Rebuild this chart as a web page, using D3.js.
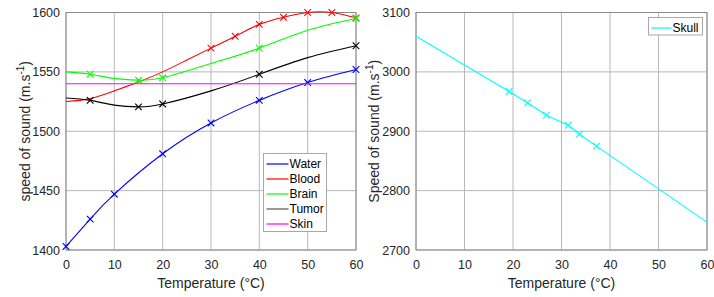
<!DOCTYPE html>
<html>
<head>
<meta charset="utf-8">
<script src="https://cdn.jsdelivr.net/npm/d3@7"></script>
<style>
  body { margin: 0; background: #fff; }
  svg { display: block; font-family: "Liberation Sans", Arial, sans-serif; }
</style>
</head>
<body>
<div id="graph"></div>
<script>
// values
const tempTicks = [0, 10, 20, 30, 40, 50, 60]
const tissueTicks = [1400, 1450, 1500, 1550, 1600]
const skullTicks = [2700, 2800, 2900, 3000, 3100]

const waterT = [0, 5, 10, 20, 30, 40, 50, 60]
const waterV = [1403, 1426, 1447, 1481, 1507, 1526, 1541, 1552]
const waterMarks = [0, 5, 10, 20, 30, 40, 50, 60]

const bloodT = [0, 5, 10, 15, 20, 25, 30, 35, 40, 45, 50, 55, 60]
const bloodV = [1525, 1527.5, 1534, 1541.5, 1550, 1560, 1570, 1580, 1590, 1596, 1600, 1600, 1595.5]
const bloodMarks = [30, 35, 40, 45, 50, 55, 60]

const brainT = [0, 5, 10, 15, 20, 30, 40, 50, 60]
const brainV = [1550, 1548, 1544.5, 1543, 1545, 1557, 1570, 1585, 1595]
const brainMarks = [5, 15, 20, 40, 60]

const tumorT = [0, 5, 10, 15, 20, 30, 40, 50, 60]
const tumorV = [1528, 1526, 1522, 1520.5, 1523, 1534, 1548, 1562, 1572]
const tumorMarks = [5, 15, 20, 40, 60]

const skinT = [0, 60]
const skinV = [1540, 1540]
const skinMarks = []

const skullT = [0, 19.2, 23, 26.9, 31.4, 33.7, 37.2, 60]
const skullV = [3060, 2967, 2948, 2927, 2910, 2895, 2875, 2747]
const skullMarks = [19.2, 23, 26.9, 31.4, 33.7, 37.2]

const tissues = [
    { name: 'Water', t: waterT, v: waterV, marks: waterMarks, colour: '#0000ff' },
    { name: 'Blood', t: bloodT, v: bloodV, marks: bloodMarks, colour: '#ff0000' },
    { name: 'Brain', t: brainT, v: brainV, marks: brainMarks, colour: '#00ff00' },
    { name: 'Tumor', t: tumorT, v: tumorV, marks: tumorMarks, colour: '#000000' },
    { name: 'Skin', t: skinT, v: skinV, marks: skinMarks, colour: '#ff00ff' }
]
const skull = [
    { name: 'Skull', t: skullT, v: skullV, marks: skullMarks, colour: '#00ffff' }
]

const width = 714, height = 297
const boxColour = '#8a8a8a', gridColour = '#b8b8b8', textColour = '#262626'

const svg = d3.select('#graph').append('svg')
    .attr('width', width)
    .attr('height', height)

const drawPanel = (opts) => {
    const { left, right, top, bottom, yDomain, yTicks, series, yLabel, labelX, curve, legend } = opts

    const x = d3.scaleLinear().domain([0, 60]).range([left, right])
    const y = d3.scaleLinear().domain(yDomain).range([bottom, top])

    const g = svg.append('g')

    // grid
    g.selectAll('.vgrid').data(tempTicks).enter().append('line')
        .attr('x1', d => x(d)).attr('x2', d => x(d))
        .attr('y1', top).attr('y2', bottom)
        .attr('stroke', gridColour).attr('stroke-width', 1)
    g.selectAll('.hgrid').data(yTicks).enter().append('line')
        .attr('x1', left).attr('x2', right)
        .attr('y1', d => y(d)).attr('y2', d => y(d))
        .attr('stroke', gridColour).attr('stroke-width', 1)

    // box
    g.append('rect')
        .attr('x', left).attr('y', top)
        .attr('width', right - left).attr('height', bottom - top)
        .attr('fill', 'none').attr('stroke', boxColour)

    // axes (tick text only)
    const xAxis = g.append('g').attr('transform', `translate(0,${bottom})`)
        .call(d3.axisBottom(x).tickValues(tempTicks).tickFormat(d3.format('d')).tickSize(0).tickPadding(10))
    const yAxis = g.append('g').attr('transform', `translate(${left},0)`)
        .call(d3.axisLeft(y).tickValues(yTicks).tickFormat(d3.format('d')).tickSize(0).tickPadding(6))
    ;[xAxis, yAxis].forEach(a => {
        a.select('.domain').remove()
        a.selectAll('text').attr('fill', textColour).attr('font-size', 12.5)
            .attr('font-family', '"Liberation Sans", Arial, sans-serif')
    })

    // lines
    const line = d3.line()
        .x(d => x(d[0]))
        .y(d => y(d[1]))
        .curve(curve)

    series.forEach(s => {
        const pts = s.t.map((t, i) => [t, s.v[i]])
        g.append('path')
            .attr('d', line(pts))
            .attr('fill', 'none')
            .attr('stroke', s.colour)
            .attr('stroke-width', 1.1)

        // x markers
        s.marks.forEach(m => {
            const i = s.t.indexOf(m)
            const cx = x(m), cy = y(s.v[i])
            const r = 3.3
            g.append('path')
                .attr('d', `M${cx - r},${cy - r}L${cx + r},${cy + r}M${cx - r},${cy + r}L${cx + r},${cy - r}`)
                .attr('stroke', s.colour)
                .attr('stroke-width', 1.1)
        })
    })

    // x label
    g.append('text')
        .attr('x', (left + right) / 2)
        .attr('y', 288)
        .attr('text-anchor', 'middle')
        .attr('font-size', 14)
        .attr('fill', textColour)
        .text('Temperature (°C)')

    // y label
    const yl = g.append('text')
        .attr('transform', `translate(${labelX},${(top + bottom) / 2}) rotate(-90)`)
        .attr('text-anchor', 'middle')
        .attr('font-size', 14)
        .attr('fill', textColour)
    yl.append('tspan').text(yLabel)
    yl.append('tspan').attr('font-size', 10).attr('dy', -6).text('-1')
    yl.append('tspan').attr('dy', 6).text(')')

    // legend
    const lg = g.append('g')
    lg.append('rect')
        .attr('x', legend.x).attr('y', legend.y)
        .attr('width', legend.w).attr('height', legend.h)
        .attr('fill', '#fff').attr('stroke', '#a8a8a8')
    series.forEach((s, i) => {
        const ly = legend.y + 10.5 + i * 15
        lg.append('line')
            .attr('x1', legend.x + 3).attr('x2', legend.x + legend.line)
            .attr('y1', ly).attr('y2', ly)
            .attr('stroke', s.colour === '#000000' ? '#555' : s.colour)
            .attr('stroke-width', 1.2)
        lg.append('text')
            .attr('x', legend.x + legend.line + 1)
            .attr('y', ly + 4.3)
            .attr('font-size', 12)
            .attr('fill', '#000')
            .text(s.name)
    })
}

drawPanel({
    left: 66, right: 356, top: 12.5, bottom: 250,
    yDomain: [1400, 1600], yTicks: tissueTicks,
    series: tissues, yLabel: 'speed of sound (m.s', labelX: 30,
    curve: d3.curveNatural,
    legend: { x: 263.5, y: 153.5, w: 63, h: 78, line: 25 }
})

drawPanel({
    left: 416, right: 707, top: 12.5, bottom: 250,
    yDomain: [2700, 3100], yTicks: skullTicks,
    series: skull, yLabel: 'Speed of sound (m.s', labelX: 379,
    curve: d3.curveLinear,
    legend: { x: 648.5, y: 17.5, w: 54, h: 17.5, line: 23 }
})
</script>
</body>
</html>
